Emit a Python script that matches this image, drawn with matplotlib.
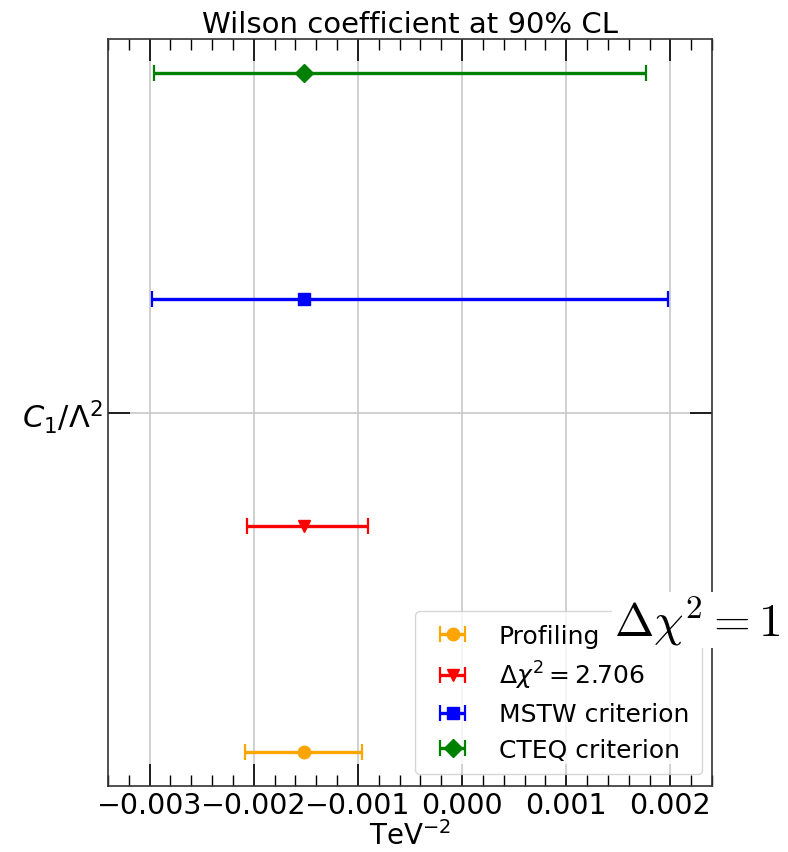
import matplotlib
matplotlib.use("Agg")
import matplotlib.pyplot as plt
from matplotlib.ticker import MultipleLocator

labels = ["Profiling", r"$\Delta\chi^2 = 2.706$", "MSTW criterion", "CTEQ criterion"]
centers = [-0.00152, -0.00152, -0.00152, -0.00152]
lower = [-0.002085, -0.002065, -0.00298, -0.00296]
upper = [-0.000965, -0.000905, 0.00198, 0.00177]
colors = ["orange", "red", "blue", "green"]
markers = ["o", "v", "s", "D"]
ypos = [0, 1, 2, 3]

fig = plt.figure(figsize=(7.88, 8.53), dpi=100)
ax = fig.add_axes([0.137, 0.0774, 0.7666, 0.8756])

for y, c, lo, hi, col, m, lab in zip(ypos, centers, lower, upper, colors, markers, labels):
    ax.errorbar([c], [y], xerr=[[c - lo], [hi - c]], fmt=m, color=col, ecolor=col,
                elinewidth=2.4, capsize=6, capthick=1.6, markersize=9, label=lab)

ax.set_xlim(-0.0034, 0.0024)
ax.set_ylim(-0.15, 3.15)
ax.xaxis.set_major_locator(MultipleLocator(0.001))
ax.xaxis.set_minor_locator(MultipleLocator(0.0002))
ax.set_yticks([1.5])
ax.set_yticklabels([r"$C_1/\Lambda^2$"])
ax.tick_params(axis="both", which="major", direction="in", top=True, right=True,
               length=16, width=1.2)
ax.tick_params(axis="x", which="major", labelsize=20.5)
ax.tick_params(axis="y", which="major", labelsize=22)
ax.tick_params(axis="x", which="minor", direction="in", top=True, bottom=True, length=8, width=1)
ax.tick_params(axis="y", which="minor", left=False, right=False)
ax.grid(True, which="major", color="#c8c8c8", linewidth=1.2)
ax.set_axisbelow(True)
for s in ax.spines.values():
    s.set_linewidth(1.2)
    s.set_color("#333333")

ax.set_xlabel(r"TeV$^{-2}$", fontsize=20, labelpad=1)
ax.set_title("Wilson coefficient at 90% CL", fontsize=21, pad=5)

leg = ax.legend(loc="lower right", fontsize=18, bbox_to_anchor=(0.983, 0.016),
                borderaxespad=0, handletextpad=0.85, labelspacing=0.45, borderpad=0.5)

fig.text(0.99, 0.272, r"$\Delta\chi^2 = 1$", fontsize=34, ha="right", va="center",
         math_fontfamily="cm", zorder=10,
         bbox=dict(facecolor="white", edgecolor="none", pad=1))

fig.savefig("out.png", dpi=100)
